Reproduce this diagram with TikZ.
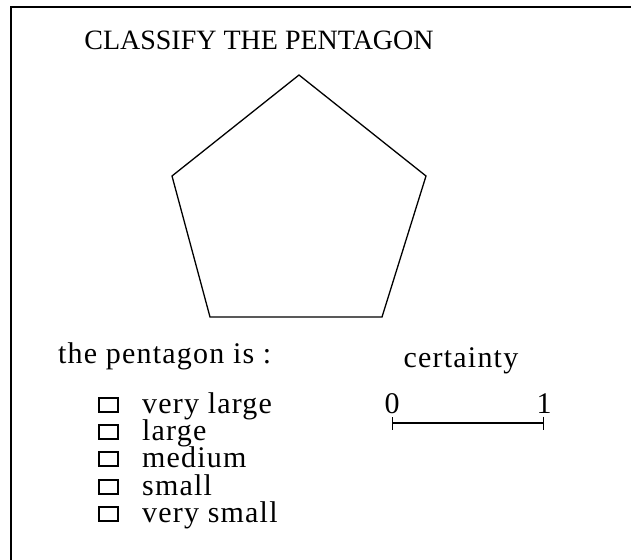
\documentclass[tikz,border=0pt]{standalone}
\usepackage{fontspec}
\setmainfont{Liberation Serif}
\newfontfamily\spaced[LetterSpace=4]{Liberation Serif}
\usetikzlibrary{arrows.meta}

\begin{document}
\begin{tikzpicture}[x=1pt,y=-1pt,
  formtext/.style={inner sep=0pt,anchor=base west,font=\spaced\fontsize{30}{30}\selectfont},
  tickbox/.style={draw,line width=1.6pt,minimum width=19pt,minimum height=14pt,inner sep=0pt,anchor=south west}]
\useasboundingbox (0,0) rectangle (631,559);
% frame
\draw[line width=2pt] (11,570) -- (11,7) -- (640,7);
\node[font=\fontsize{28}{28}\selectfont,inner sep=0pt,anchor=base] (title) at (259,50) {CLASSIFY THE PENTAGON};
% the pentagon
\draw[line width=1.3pt] (299,75) -- (426,176) -- (382,317) -- (210,317) -- (172,176) -- cycle;
\node[formtext] (question) at (58,363) {the pentagon is :};
% answers
\foreach \word/\yy [count=\i] in {very large/413,large/440,medium/467,small/495,very small/522} {
  \node[tickbox] (box\i) at (98,\yy) {};
  \node[formtext] (size\i) at (142,\yy) {\word};
}
% certainty scale
\node[formtext,anchor=base] (certainty) at (461,367) {certainty};
\node[formtext,anchor=base] (zero) at (392,413) {0};
\node[formtext,anchor=base] (one) at (544,413) {1};
\coordinate (lo) at (392,423);
\coordinate (hi) at (544,423);
\draw[line width=1.3pt,{Bar[width=13pt]}-{Bar[width=13pt]}] (lo) -- (hi);
\end{tikzpicture}
\end{document}
